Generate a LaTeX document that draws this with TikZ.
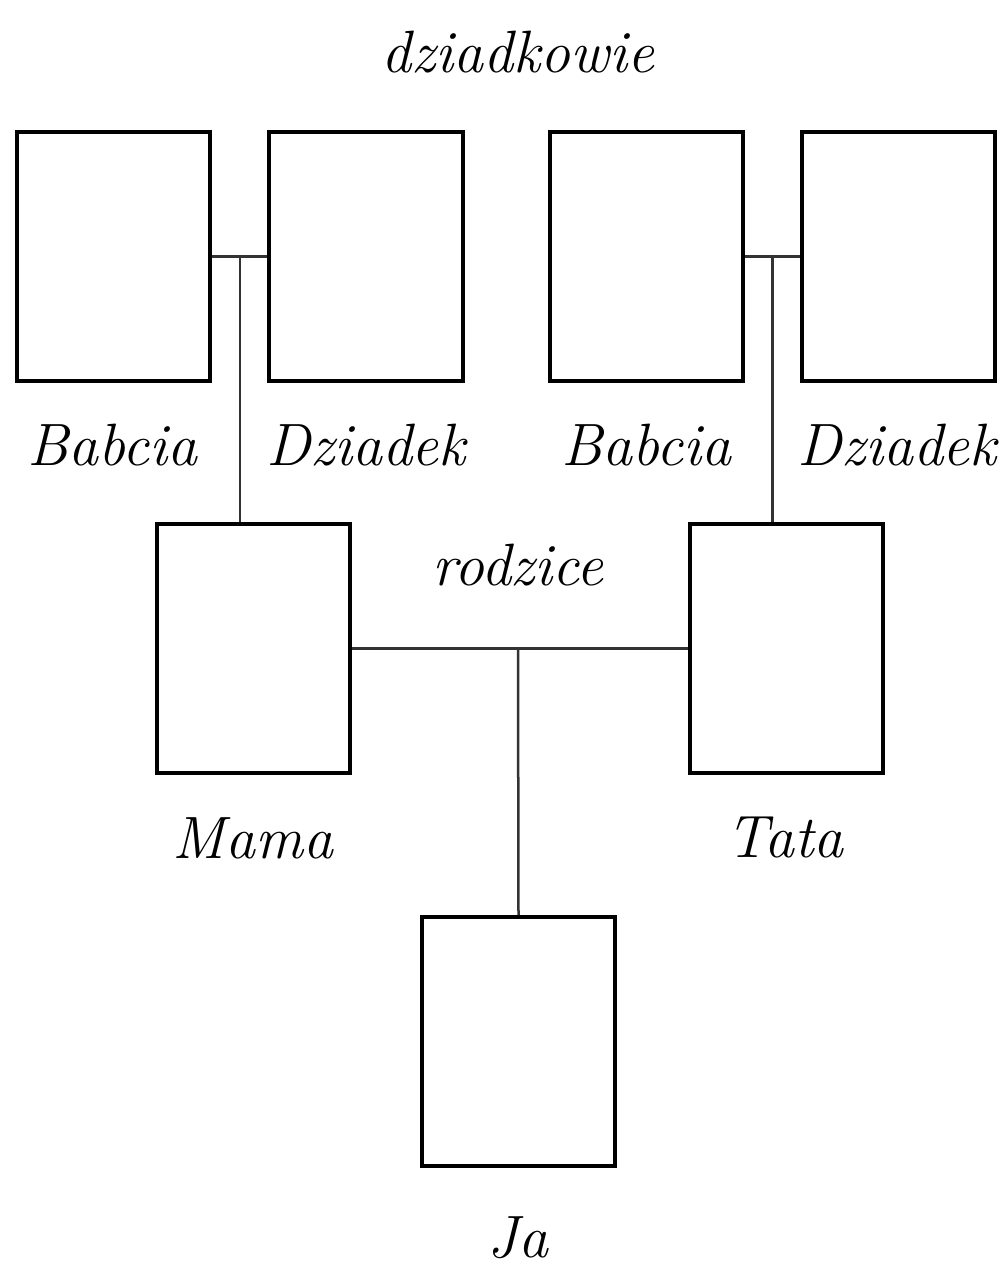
\documentclass[tikz,border=0pt]{standalone}
\usetikzlibrary{positioning,calc}
\tikzset{photo/.style={draw,line width=0.04cm,minimum width=1.93cm,minimum height=2.49cm,inner sep=0pt},
  link/.style={draw=black!80,line width=0.025cm},
  caption/.style={font=\fontsize{17}{21}\selectfont\itshape,inner sep=0pt}}

\begin{document}
\begin{tikzpicture}[x=0.01cm,y=-0.01cm]
\useasboundingbox (0,0) rectangle (1004,1282);
% boxes
\node[photo] (babcia1) at (113.5,256.5) {};
\node[photo] (dziadek1) at (366,256.5) {};
\node[photo] (babcia2) at (646.5,256.5) {};
\node[photo] (dziadek2) at (898.5,256.5) {};
\node[photo] (mama) at (253.5,648.5) {};
\node[photo] (tata) at (786.5,648.5) {};
\node[photo] (ja) at (518.5,1041.5) {};
% labels
\node[caption] (dziadkowie) at (518,52) {dziadkowie};
\node[caption] (lb1) at (112,445) {Babcia};
\node[caption] (ld1) at (366,445) {Dziadek};
\node[caption] (lb2) at (646,445) {Babcia};
\node[caption] (ld2) at (897,445) {Dziadek};
\node[caption] (rodzice) at (518,565) {rodzice};
\node[caption] (lmama) at (253,838) {Mama};
\node[caption] (ltata) at (785,838) {Tata};
\node[caption] (lja) at (518,1238) {Ja};
% connectors
\coordinate (p1) at ($(babcia1.east)!0.5!(dziadek1.west)$);
\coordinate (p2) at ($(babcia2.east)!0.5!(dziadek2.west)$);
\coordinate (p3) at (518,648.5);
\draw[link] (babcia1.east) -- (dziadek1.west);
\draw[link] (babcia2.east) -- (dziadek2.west);
\draw[link] (p1) -- (p1 |- mama.north);
\draw[link] (p2) -- (p2 |- tata.north);
\draw[link] (mama.east) -- (tata.west);
\draw[link] (p3) -- (ja.north);
\end{tikzpicture}
\end{document}
